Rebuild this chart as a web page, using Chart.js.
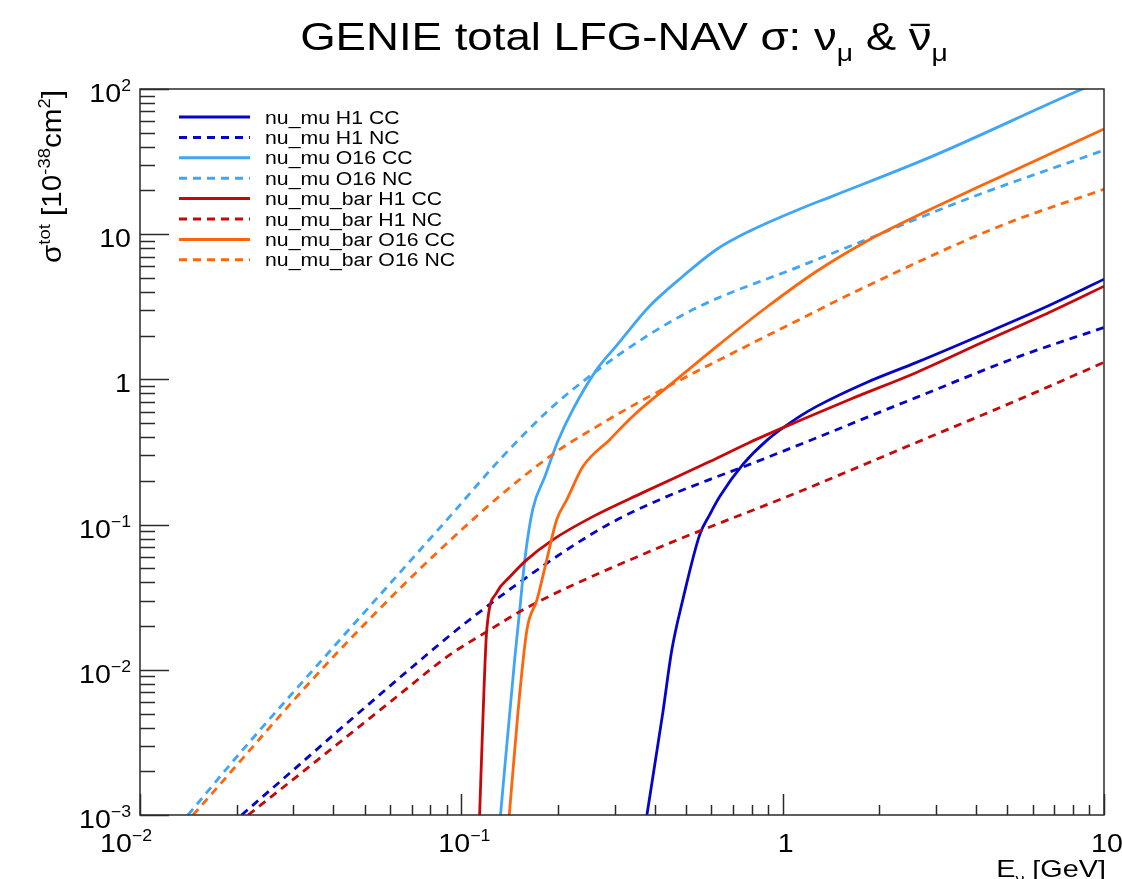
<!DOCTYPE html>
<html>
<head>
<meta charset="utf-8">
<title>GENIE total LFG-NAV cross sections</title>
<script src="https://cdn.jsdelivr.net/npm/chart.js@4.4.1/dist/chart.umd.min.js"></script>
<style>
    html, body { margin: 0; padding: 0; background: #fff; }
    #wrap { width: 1122px; height: 879px; position: relative; }
</style>
</head>
<body>
<div id="wrap"><canvas id="xsec"></canvas></div>
<script>
// Neutrino energy in GeV, total cross section in 1e-38 cm^2
const NUMU_H1_CC_E = [0.378, 0.4236, 0.452, 0.489, 0.552, 0.593, 0.637, 0.752, 0.891, 1.13, 1.276, 1.825, 2.61, 4.19, 6.77, 10];
const NUMU_H1_CC = [0.001, 0.00505, 0.01374, 0.0304, 0.0853, 0.1172, 0.156, 0.2597, 0.379, 0.556, 0.652, 0.953, 1.31, 2.04, 3.24, 4.89];

const NUMU_H1_NC_E = [0.0207, 0.0293, 0.0419, 0.0676, 0.106, 0.202, 0.290, 0.414, 0.581, 0.789, 2.61, 5.35, 10];
const NUMU_H1_NC = [0.001, 0.00195, 0.0039, 0.0097, 0.0221, 0.0621, 0.1017, 0.1485, 0.201, 0.2597, 0.752, 1.418, 2.28];

const NUMU_O16_CC_E = [0.1324, 0.1465, 0.152, 0.1576, 0.1667, 0.182, 0.1995, 0.2225, 0.264, 0.305, 0.385, 0.489, 0.624, 0.789, 1.13, 1.43, 2.93, 8.57, 10];
const NUMU_O16_CC = [0.001, 0.01172, 0.026, 0.0574, 0.1268, 0.2143, 0.373, 0.621, 1.172, 1.72, 3.19, 5.13, 7.88, 10.5, 14.9, 18.3, 34.5, 100, 115];

const NUMU_O16_NC_E = [0.0141, 0.0205, 0.0419, 0.092, 0.1318, 0.188, 0.270, 0.385, 0.552, 1.13, 1.736, 3.73, 10];
const NUMU_O16_NC = [0.001, 0.00268, 0.0161, 0.1135, 0.2805, 0.621, 1.19, 2.04, 3.19, 6.0, 8.8, 17.4, 37.9];

const NUMUBAR_H1_CC_E = [0.114, 0.1167, 0.120, 0.1288, 0.1416, 0.160, 0.193, 0.2565, 0.367, 0.593, 0.789, 1.13, 1.616, 2.61, 4.19, 6.77, 10];
const NUMUBAR_H1_CC = [0.001, 0.00452, 0.0189, 0.034, 0.0437, 0.0574, 0.0789, 0.1135, 0.166, 0.2717, 0.368, 0.521, 0.728, 1.117, 1.80, 2.90, 4.38];

const NUMUBAR_H1_NC_E = [0.0217, 0.0293, 0.0419, 0.0629, 0.092, 0.120, 0.160, 0.385, 1.13, 2.61, 5.35, 10];
const NUMUBAR_H1_NC = [0.001, 0.00169, 0.00318, 0.00652, 0.01267, 0.0183, 0.0268, 0.0652, 0.169, 0.368, 0.716, 1.31];

const NUMUBAR_O16_CC_E = [0.141, 0.150, 0.160, 0.172, 0.1845, 0.198, 0.213, 0.239, 0.290, 0.341, 0.468, 0.624, 0.891, 1.276, 1.825, 2.31, 2.93, 4.73, 10];
const NUMUBAR_O16_CC = [0.001, 0.00505, 0.0189, 0.0304, 0.0574, 0.108, 0.1485, 0.251, 0.386, 0.556, 1.0, 1.69, 3.14, 5.56, 8.95, 11.7, 15.1, 24.7, 53];

const NUMUBAR_O16_NC_E = [0.01462, 0.0419, 0.106, 0.188, 0.270, 0.385, 1.13, 1.825, 4.73, 10];
const NUMUBAR_O16_NC = [0.001, 0.01374, 0.1033, 0.294, 0.488, 0.764, 2.59, 4.38, 11.35, 20.4];

const X_TICKS = [0.01, 0.1, 1, 10];
const X_TICK_LABELS = [['10', '−2'], ['10', '−1'], ['1', ''], ['10', '']];
const Y_TICKS = [0.001, 0.01, 0.1, 1, 10, 100];
const Y_TICK_LABELS = [['10', '−3'], ['10', '−2'], ['10', '−1'], ['1', ''], ['10', ''], ['10', '2']];

const BLUE = '#0505c8';
const LIGHT_BLUE = '#3fa5f7';
const RED = '#c80808';
const ORANGE = '#ff650a';
const FONT = '"Liberation Sans", Arial, Helvetica, sans-serif';

const SERIES = [
    { label: 'nu_mu H1 CC', e: NUMU_H1_CC_E, s: NUMU_H1_CC, color: BLUE, dash: [] },
    { label: 'nu_mu H1 NC', e: NUMU_H1_NC_E, s: NUMU_H1_NC, color: BLUE, dash: [8, 6] },
    { label: 'nu_mu O16 CC', e: NUMU_O16_CC_E, s: NUMU_O16_CC, color: LIGHT_BLUE, dash: [] },
    { label: 'nu_mu O16 NC', e: NUMU_O16_NC_E, s: NUMU_O16_NC, color: LIGHT_BLUE, dash: [8, 6] },
    { label: 'nu_mu_bar H1 CC', e: NUMUBAR_H1_CC_E, s: NUMUBAR_H1_CC, color: RED, dash: [] },
    { label: 'nu_mu_bar H1 NC', e: NUMUBAR_H1_NC_E, s: NUMUBAR_H1_NC, color: RED, dash: [8, 6] },
    { label: 'nu_mu_bar O16 CC', e: NUMUBAR_O16_CC_E, s: NUMUBAR_O16_CC, color: ORANGE, dash: [] },
    { label: 'nu_mu_bar O16 NC', e: NUMUBAR_O16_NC_E, s: NUMUBAR_O16_NC, color: ORANGE, dash: [8, 6] },
];

// text made of runs: [text, kind] with kind '', 'sup', 'sub' or 'bar'
function richText(ctx, parts, x, y, size, align, sx) {
    const segs = parts.map(([t, k]) => {
        const fs = (k === 'sup' || k === 'sub') ? size * 0.62 : size;
        ctx.font = `${fs}px ${FONT}`;
        return { t, k, fs, w: ctx.measureText(t).width * sx };
    });
    const total = segs.reduce((a, s) => a + s.w, 0);
    let cx = align === 'center' ? x - total / 2 : align === 'right' ? x - total : x;
    ctx.textAlign = 'left';
    ctx.textBaseline = 'alphabetic';
    for (const s of segs) {
        let dy = 0;
        if (s.k === 'sup') dy = -size * 0.42;
        if (s.k === 'sub') dy = size * 0.28;
        ctx.font = `${s.fs}px ${FONT}`;
        ctx.save();
        ctx.translate(cx, y + dy);
        ctx.scale(sx, 1);
        ctx.fillText(s.t, 0, 0);
        ctx.restore();
        if (s.k === 'bar') {
            ctx.save();
            ctx.lineWidth = size * 0.06;
            ctx.strokeStyle = ctx.fillStyle;
            ctx.beginPath();
            ctx.moveTo(cx + s.w * 0.08, y - size * 0.66);
            ctx.lineTo(cx + s.w * 0.92, y - size * 0.66);
            ctx.stroke();
            ctx.restore();
        }
        cx += s.w;
    }
}

// ROOT style frame: box, inward ticks, power-of-ten labels, titles, legend
const rootFrame = {
    id: 'rootFrame',
    afterDraw(chart) {
        const { ctx, chartArea: a, scales: { x, y } } = chart;
        ctx.save();
        ctx.strokeStyle = '#2a2a2a';
        ctx.fillStyle = '#000';
        ctx.lineWidth = 1.5;
        ctx.strokeRect(a.left, a.top, a.right - a.left, a.bottom - a.top);

        ctx.beginPath();
        for (let d = -3; d <= 2; d++) {
            for (let k = 1; k <= 9; k++) {
                const v = k * Math.pow(10, d);
                if (v > 100.0001) break;
                const py = Math.round(y.getPixelForValue(v)) + 0.5;
                ctx.moveTo(a.left, py);
                ctx.lineTo(a.left + (k === 1 ? 29 : 15), py);
            }
        }
        for (let d = -2; d <= 1; d++) {
            for (let k = 1; k <= 9; k++) {
                const v = k * Math.pow(10, d);
                if (v > 10.0001) break;
                const px = Math.round(x.getPixelForValue(v)) + 0.5;
                ctx.moveTo(px, a.bottom);
                ctx.lineTo(px, a.bottom - (k === 1 ? 21 : 10));
            }
        }
        ctx.stroke();

        Y_TICKS.forEach((v, i) => {
            const [base, exp] = Y_TICK_LABELS[i];
            const parts = exp ? [[base, ''], [exp, 'sup']] : [[base, '']];
            richText(ctx, parts, 131, y.getPixelForValue(v) + 13, 26, 'right', 1.1);
        });
        X_TICKS.forEach((v, i) => {
            const [base, exp] = X_TICK_LABELS[i];
            const parts = exp ? [[base, ''], [exp, 'sup']] : [[base, '']];
            // first label is pulled left, clear of the y labels
            const dx = i === 0 ? -14 : 3;
            richText(ctx, parts, x.getPixelForValue(v) + dx, 852, 26, 'center', 1.1);
        });

        richText(ctx, [['GENIE total LFG-NAV σ: ν', ''], ['μ', 'sub'], [' & ', ''], ['ν', 'bar'], ['μ', 'sub']],
            624, 50, 38, 'center', 1.2);

        richText(ctx, [['E', ''], ['ν', 'sub'], [' [GeV]', '']], 1106, 877, 24, 'right', 1.2);

        ctx.save();
        ctx.translate(61, 90);
        ctx.rotate(-Math.PI / 2);
        richText(ctx, [['σ', ''], ['tot', 'sup'], [' [10', ''], ['-38', 'sup'], ['cm', ''], ['2', 'sup'], [']', '']],
            0, 0, 27, 'right', 1.1);
        ctx.restore();

        chart.data.datasets.forEach((ds, i) => {
            const rowY = 117 + i * 20.4;
            ctx.save();
            ctx.strokeStyle = ds.borderColor;
            ctx.lineWidth = 3;
            ctx.setLineDash(ds.borderDash || []);
            ctx.beginPath();
            ctx.moveTo(179, rowY);
            ctx.lineTo(250, rowY);
            ctx.stroke();
            ctx.restore();
            richText(ctx, [[ds.label, '']], 265, rowY + 6.5, 18, 'left', 1.18);
        });
        ctx.restore();
    },
};

new Chart(document.getElementById('xsec'), {
    type: 'line',
    data: {
        datasets: SERIES.map((sr, i) => ({
            label: sr.label,
            data: sr.e.map((e, j) => ({ x: e, y: sr.s[j] })),
            borderColor: sr.color,
            borderDash: sr.dash,
            borderWidth: 2.8,
            pointRadius: 0,
            cubicInterpolationMode: 'monotone',
            fill: false,
            clip: 0,
            order: SERIES.length - i,
        })),
    },
    options: {
        responsive: true,
        maintainAspectRatio: false,
        animation: false,
        events: [],
        layout: { padding: { left: 140, right: 18, top: 89, bottom: 64 } },
        plugins: {
            legend: { display: false },
            tooltip: { enabled: false },
        },
        scales: {
            x: { type: 'logarithmic', min: 0.01, max: 10, display: false },
            y: { type: 'logarithmic', min: 0.001, max: 100, display: false },
        },
    },
    plugins: [rootFrame],
});
</script>
</body>
</html>
